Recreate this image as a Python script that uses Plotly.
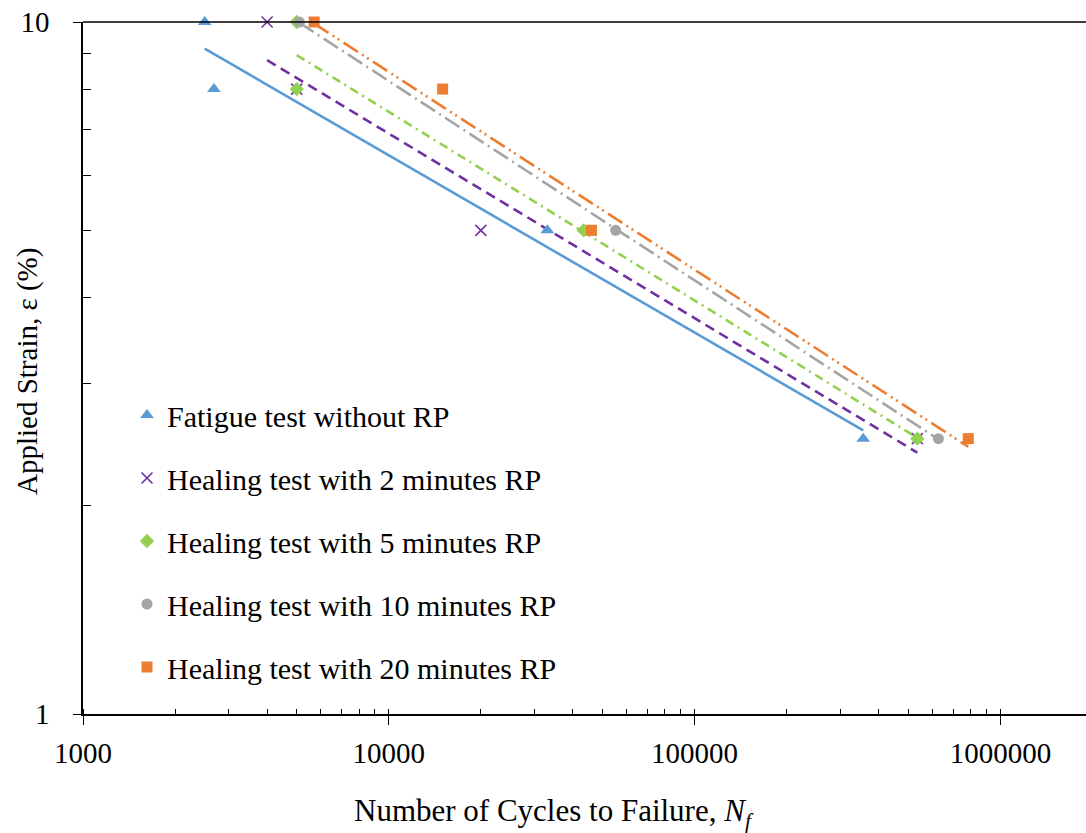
import numpy as np
import plotly.graph_objects as go

# ---- data ----
series_names = [
    "Fatigue test without RP",
    "Healing test with 2 minutes RP",
    "Healing test with 5 minutes RP",
    "Healing test with 10 minutes RP",
    "Healing test with 20 minutes RP",
]
cycles_no_rp = [2500, 2680, 33000, 356000]
strain_no_rp = [10, 8, 5, 2.5]
cycles_2min = [4000, 5000, 20000, 535000]
strain_2min = [10, 8, 5, 2.5]
cycles_5min = [5000, 5000, 43400, 535000]
strain_5min = [10, 8, 5, 2.5]
cycles_10min = [5100, 55200, 627000]
strain_10min = [10, 5, 2.5]
cycles_20min = [5700, 15000, 46000, 785000]
strain_20min = [10, 8, 5, 2.5]

x_tick_vals = [1000, 10000, 100000, 1000000]
x_tick_text = ["1000", "10000", "100000", "1000000"]
y_tick_vals = [1, 10]
y_tick_text = ["1", "10"]

colors = ["#5B9BD5", "#7030A0", "#92D050", "#A5A5A5", "#ED7D31"]
symbols = ["triangle-up", "x-thin", "diamond", "circle", "square"]
sizes = [12, 11, 11, 11, 11]
dashes = ["solid", "10px,6px", "9px,5px,2px,5px", "17px,5px,2px,5px",
          "17px,5px,2px,4px,2px,5px"]

all_x = [cycles_no_rp, cycles_2min, cycles_5min, cycles_10min, cycles_20min]
all_y = [strain_no_rp, strain_2min, strain_5min, strain_10min, strain_20min]

FONT = "Liberation Serif, Times New Roman, serif"
W, H = 1086, 833
L, T, B, R = 83, 22, 119, 0
pw, ph = W - L - R, H - T - B

fig = go.Figure()

# power-law trendlines (least squares in log-log space)
for xs, ys, c, d in zip(all_x, all_y, colors, dashes):
    lx, ly = np.log10(xs), np.log10(ys)
    b, a = np.polyfit(lx, ly, 1)
    xe = np.array([min(xs), max(xs)], dtype=float)
    ye = 10 ** (a + b * np.log10(xe))
    fig.add_trace(go.Scatter(x=xe, y=ye, mode="lines", showlegend=False,
                             hoverinfo="skip", cliponaxis=False,
                             line=dict(color=c, width=2.6, dash=d)))

# data points
for name, xs, ys, c, s, sz in zip(series_names, all_x, all_y, colors, symbols, sizes):
    mk = dict(color=c, symbol=s, size=sz)
    if s == "x-thin":
        mk.update(line=dict(color=c, width=1.6))
    fig.add_trace(go.Scatter(x=xs, y=ys, mode="markers", name=name,
                             legendgroup=name, marker=mk, cliponaxis=False))

xmax_log = 3 + (W - L) / 305.8

fig.update_layout(
    width=W, height=H,
    margin=dict(l=L, r=R, t=T, b=B),
    plot_bgcolor="white", paper_bgcolor="white",
    font=dict(family=FONT, size=29, color="black"),
    showlegend=True,
    legend=dict(x=(127 - L) / pw, y=(714 - 389) / ph, xanchor="left", yanchor="top",
                bgcolor="rgba(0,0,0,0)", borderwidth=0,
                font=dict(family=FONT, size=30, color="black"),
                tracegroupgap=21, itemsizing="trace"),
    xaxis=dict(type="log", range=[3, xmax_log], showgrid=False, zeroline=False,
               automargin=False,
               showline=True, linecolor="black", linewidth=1.5,
               tickmode="array", tickvals=x_tick_vals, ticktext=x_tick_text,
               ticks="outside", ticklen=9, tickwidth=1.3, tickcolor="black",
               ticklabelstandoff=3,
               tickfont=dict(family=FONT, size=29, color="black"),
               minor=dict(ticks="inside", ticklen=5, tickwidth=1.1, tickcolor="black",
                          tickmode="array",
                          tickvals=[k * 10 ** e for e in range(3, 7) for k in range(1, 10)],
                          showgrid=False)),
    yaxis=dict(type="log", range=[0, 1], showgrid=False, zeroline=False,
               automargin=False,
               showline=True, linecolor="black", linewidth=1.5,
               tickmode="array", tickvals=y_tick_vals, ticktext=y_tick_text,
               ticks="outside", ticklen=8, tickwidth=1.3, tickcolor="black",
               ticklabelstandoff=18,
               tickfont=dict(family=FONT, size=29, color="black"),
               minor=dict(ticks="inside", ticklen=8, tickwidth=1.1, tickcolor="black",
                          tickmode="array", tickvals=[2, 3, 4, 5, 6, 7, 8, 9],
                          showgrid=False)),
    shapes=[dict(type="line", xref="paper", yref="paper", x0=0, x1=1, y0=1, y1=1,
                 line=dict(color="black", width=1.5))],
    annotations=[
        dict(text="Number of Cycles to Failure, <i>N<sub>f</sub></i>",
             xref="paper", yref="paper",
             x=(554 - L) / pw, y=(714 - 813) / ph,
             xanchor="center", yanchor="middle", showarrow=False,
             font=dict(family=FONT, size=31, color="black")),
        dict(text="Applied Strain, ε (%)",
             xref="paper", yref="paper",
             x=(27 - L) / pw, y=(714 - 372) / ph, textangle=-90,
             xanchor="center", yanchor="middle", showarrow=False,
             font=dict(family=FONT, size=29, color="black")),
    ],
)

fig.write_html("out.html")
